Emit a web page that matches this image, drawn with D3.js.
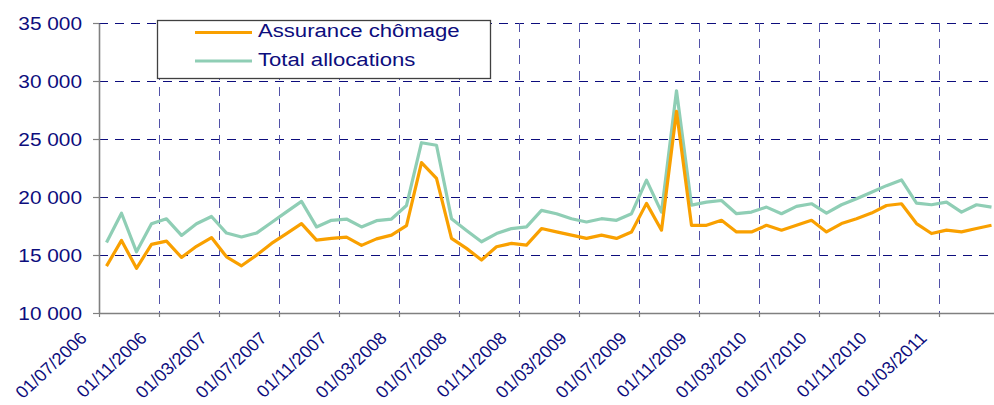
<!DOCTYPE html>
<html>
<head>
<meta charset="utf-8">
<script src="https://cdn.jsdelivr.net/npm/d3@7"></script>
<style>
  body { margin: 0; background: #fff; }
  svg { display: block; font-family: "Liberation Sans", Arial, sans-serif; }
</style>
</head>
<body>
<svg id="graph" width="994" height="405"></svg>
<script>
// monthly series, 07/2006 -> 06/2011
const seriesNames = ["Assurance chômage", "Total allocations"];
const assurance = [
  14040, 16260, 13850, 15920, 16200, 14790, 15750, 16500, 14840, 14070, 14980, 16000,
  16850, 17710, 16280, 16430, 16540, 15830, 16390, 16710, 17540, 22970, 21600, 16430,
  15570, 14570, 15710, 16000, 15850, 17280, 16990, 16710, 16430, 16710, 16430, 16990,
  19450, 17140, 27390, 17560, 17560, 17990, 16990, 16990, 17560, 17140, 17560, 17990,
  16990, 17710, 18130, 18610, 19270, 19420, 17710, 16850, 17140, 16990, 17280, 17560
];
const totalAlloc = [
  16070, 18600, 15270, 17690, 18120, 16690, 17690, 18320, 16890, 16550, 16890, 17800,
  18720, 19620, 17420, 17990, 18100, 17420, 17960, 18100, 19270, 24680, 24460, 18130,
  17120, 16140, 16850, 17280, 17420, 18850, 18560, 18130, 17850, 18130, 17990, 18560,
  21450, 18700, 29160, 19300, 19560, 19700, 18560, 18700, 19130, 18560, 19190, 19420,
  18610, 19330, 19850, 20410, 20980, 21470, 19470, 19330, 19560, 18700, 19330, 19130
];
const months = d3.utcMonth.range(new Date(Date.UTC(2006, 6, 1)), new Date(Date.UTC(2011, 6, 1)));
const xTickLabels = [
  "01/07/2006", "01/11/2006", "01/03/2007", "01/07/2007", "01/11/2007",
  "01/03/2008", "01/07/2008", "01/11/2008", "01/03/2009", "01/07/2009",
  "01/11/2009", "01/03/2010", "01/07/2010", "01/11/2010", "01/03/2011"
];
const yTicks = [10000, 15000, 20000, 25000, 30000, 35000];

const navy = "#0d0d7d";
const axisGray = "#808080";
const colors = ["#f9a000", "#8fceb5"];

const svg = d3.select("#graph");
const plotLeft = 99, plotTop = 23, plotBottom = 313;

// x : one slot of 15px per month, points sit mid-slot
const x = d3.scaleLinear().domain([0, months.length]).range([plotLeft, 999]);
const y = d3.scaleLinear().domain([10000, 35000]).range([plotBottom, plotTop]);
const fmt = d3.formatLocale({ decimal: ",", thousands: " ", grouping: [3], currency: ["", "€"] }).format(",");
const tickIdx = xTickLabels.map((d, i) => i * 4);

// grid
svg.append("g")
  .selectAll("line")
  .data(yTicks.slice(1))
  .join("line")
  .attr("x1", plotLeft).attr("x2", 994)
  .attr("y1", (d) => Math.round(y(d)) + 0.5)
  .attr("y2", (d) => Math.round(y(d)) + 0.5)
  .attr("stroke", navy)
  .attr("stroke-dasharray", "9,7");

svg.append("g")
  .selectAll("line")
  .data(tickIdx.slice(1))
  .join("line")
  .attr("x1", (d) => Math.round(x(d)) + 0.5)
  .attr("x2", (d) => Math.round(x(d)) + 0.5)
  .attr("y1", plotTop).attr("y2", plotBottom)
  .attr("stroke", "#5252a8")
  .attr("stroke-dasharray", "9,7");

// series
const line = d3.line()
  .x((d, i) => x(i + 0.5))
  .y((d) => y(d));

[totalAlloc, assurance].forEach((s, k) => {
  svg.append("path")
    .datum(s)
    .attr("fill", "none")
    .attr("stroke", colors[1 - k])
    .attr("stroke-width", 3.2)
    .attr("stroke-linejoin", "round")
    .attr("d", line);
});

// y axis
svg.append("g")
  .attr("transform", `translate(${plotLeft},0)`)
  .call(d3.axisLeft(y).tickValues(yTicks).tickFormat(fmt).tickSize(6).tickSizeOuter(0))
  .call((g) => g.select(".domain").attr("stroke", axisGray).attr("stroke-width", 1.6))
  .call((g) => g.selectAll(".tick line").attr("stroke", axisGray).attr("stroke-width", 1.2))
  .call((g) =>
    g.selectAll(".tick text")
      .attr("x", 0)
      .attr("dy", "0.35em")
      .attr("transform", "translate(-17,0) scale(1.19,1)")
      .attr("fill", navy)
      .attr("font-size", 17.5)
  );

// x axis
svg.append("g")
  .attr("transform", `translate(0,${plotBottom})`)
  .call(d3.axisBottom(x).tickValues(tickIdx).tickFormat((d) => xTickLabels[d / 4]).tickSize(4).tickSizeOuter(0))
  .call((g) => g.select(".domain").attr("stroke", axisGray).attr("stroke-width", 1.6))
  .call((g) => g.selectAll(".tick line").attr("stroke", axisGray).attr("stroke-width", 1.2))
  .call((g) =>
    g.selectAll(".tick text")
      .attr("x", 0).attr("y", 0)
      .attr("dy", "0.35em")
      .attr("text-anchor", "end")
      .attr("transform", "translate(-16,22) scale(1.08,1) rotate(-45)")
      .attr("fill", navy)
      .attr("font-size", 17)
  );

// legend
const legend = svg.append("g");
legend.append("rect")
  .attr("x", 157.5).attr("y", 20.5)
  .attr("width", 333).attr("height", 58)
  .attr("fill", "#fff")
  .attr("stroke", "#404040")
  .attr("stroke-width", 1.3);

seriesNames.forEach((name, i) => {
  const ly = [32.5, 61][i];
  legend.append("line")
    .attr("x1", 195).attr("x2", 252)
    .attr("y1", ly).attr("y2", ly)
    .attr("stroke", colors[i])
    .attr("stroke-width", 3);
  legend.append("text")
    .attr("transform", `translate(258,${ly - 1.5}) scale(1.23,1)`)
    .attr("dy", "0.35em")
    .attr("fill", navy)
    .attr("font-size", 18)
    .text(name);
});
</script>
</body>
</html>
